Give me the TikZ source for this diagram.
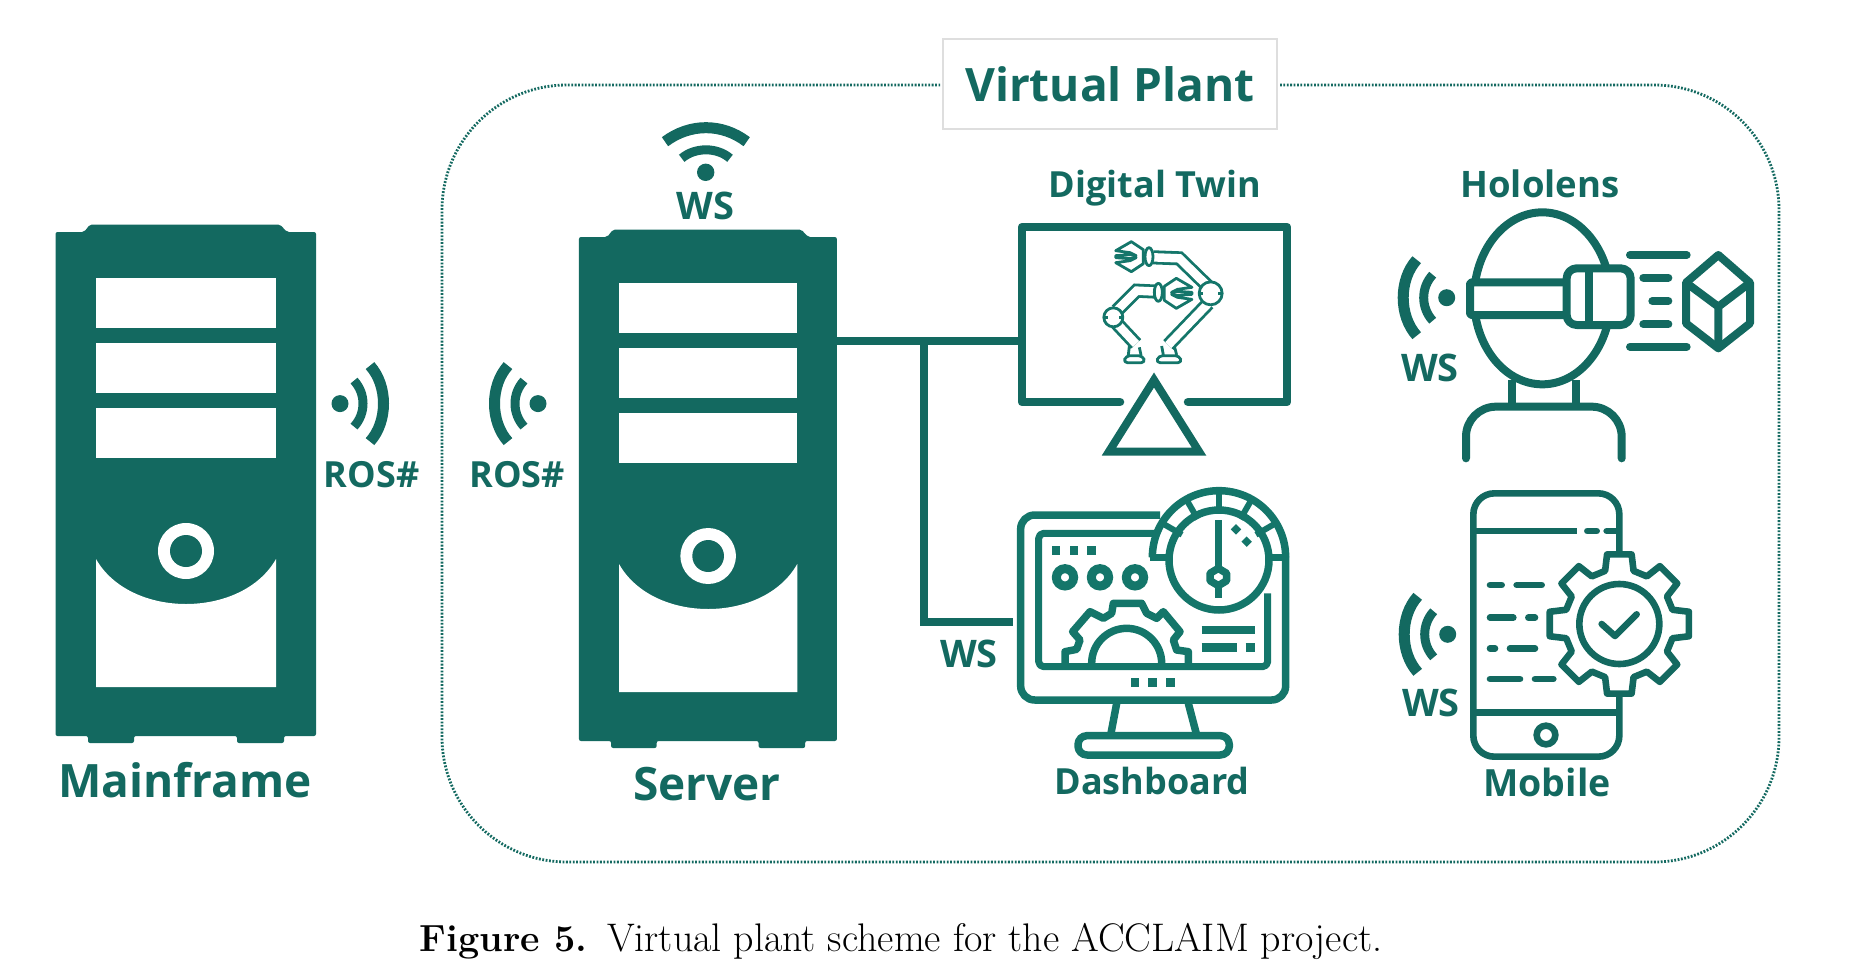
\documentclass[tikz,border=0pt]{standalone}
\usepackage{fontspec}
\usepackage{tikz}
\usetikzlibrary{arrows.meta,calc,positioning}
\newfontfamily\labelfont{Open Sans}
\definecolor{PlantTeal}{RGB}{19,105,96}
\definecolor{IconTeal}{RGB}{20,118,106}
\definecolor{BoxGray}{RGB}{222,222,222}
\tikzset{
  plantlabel/.style={text=PlantTeal,inner sep=0pt,anchor=base,font=\labelfont\bfseries\fontsize{#1}{#1}\selectfont},
  linkline/.style={PlantTeal,line width=8pt},
  iconline/.style={PlantTeal,line width=#1,line join=round},
  iconline/.default=8pt,
  capline/.style={iconline=#1,line cap=round},
  thinarm/.style={IconTeal,line width=2.8pt,line join=round},
  armtube/.style={IconTeal,line width=2.8pt,double=white,double distance=8.5pt},
  towerpic/.pic={
    \fill[PlantTeal,rounded corners=2pt] (55.5,232) -- (84,232) -- (90,224.5) -- (280,224.5) -- (287,232) -- (316,232)
      -- (316,736) -- (284,736) -- (284,743) -- (237,743) -- (237,736) -- (134,736) -- (134,743) -- (88,743)
      -- (88,736) -- (55.5,736) -- cycle;
    \foreach \top/\bot in {278/328,343/393,408/458}
      \fill[white] (96,\top) rectangle (276,\bot);
    \fill[white] (96,559) .. controls (130,619) and (242,619) .. (276,559) -- (276,687) -- (96,687) -- cycle;
    \fill[white] (186,551) circle[radius=28];
    \fill[PlantTeal] (186,551) circle[radius=16];
  },
  signalpic/.pic={
    \fill[PlantTeal] (0,0) circle[radius=8.5];
    \draw[PlantTeal,line width=9pt] (14,-23) .. controls (26,-10) and (26,10) .. (14,23);
    \draw[PlantTeal,line width=11pt] (30,-38) .. controls (48,-18) and (48,18) .. (30,38);
  },
  gripperpic/.pic={
    \draw[thinarm,fill=white] (0,-7) -- (-10,-15) -- (-23,-6) -- (-11,-4) -- (-6,-1) -- (-11,-2) -- (-23,-1)
      -- (-23,1) -- (-11,2) -- (-6,1) -- (-11,4) -- (-23,6) -- (-10,15) -- (0,7) -- cycle;
  },
  elbowpic/.pic={
    \draw[thinarm,fill=white] (0,0) circle[radius=#1];
    \draw[thinarm] (-#1,0) -- ++(4,0) (#1,0) -- ++(-4,0);
  },
}
\begin{document}
\begin{tikzpicture}[x=1pt,y=-1pt]
  \useasboundingbox (0,0) rectangle (1853,972);

  \draw[PlantTeal,line width=2.8pt,dash pattern=on 1.8pt off 1.6pt,rounded corners=125pt]
    (1280,85) -- (1779,85) -- (1779,862) -- (442,862) -- (442,85) -- (940,85);
  \node[plantlabel=46,draw=BoxGray,fill=white,anchor=center,minimum width=334pt,minimum height=90pt,line width=1.2pt] (plantbox) at (1110,84) {Virtual Plant};

  \pic at (0,0) {towerpic};
  \pic[xscale=0.99] at (524,5) {towerpic};
  \node[plantlabel=46] (mainframelabel) at (185,797) {Mainframe};
  \node[plantlabel=46] (serverlabel) at (707,800) {Server};

  \pic at (340,403.6) {signalpic};
  \pic[rotate=180] at (538,403.6) {signalpic};
  \node[plantlabel=36] (rosleft) at (371.5,487) {ROS\#};
  \node[plantlabel=36] (rosright) at (517,487) {ROS\#};

  % wifi over the server
  \fill[PlantTeal] (705.7,172.3) circle[radius=8.7];
  \draw[PlantTeal,line width=11pt] (665,141.7) .. controls (690,123) and (722,123) .. (746.7,141.7);
  \draw[PlantTeal,line width=9pt] (681.7,158.3) .. controls (695,147) and (717,147) .. (730,158.3);
  \node[plantlabel=38] (wsserver) at (705.5,219) {WS};

  \coordinate (serverport) at (836,341);
  \coordinate (branch) at (924,341);
  \coordinate (twinport) at (1020,341);
  \coordinate (dashport) at (1013,622);
  \draw[linkline] (serverport) -- (twinport);
  \draw[linkline] (branch) |- (dashport);
  \node[plantlabel=38] (wsdash) at (969,667) {WS};

  % digital twin
  \node[plantlabel=36] (twinlabel) at (1155,197) {Digital Twin};
  \draw[iconline=8.5pt,line cap=round] (1120,402) -- (1022,402) -- (1022,227) -- (1287,227) -- (1287,402) -- (1188,402);
  \draw[iconline=8pt,line join=miter] (1154,380) -- (1199,451.5) -- (1109,451.5) -- cycle;
  \begin{scope}[shift={(1100,240)},scale=1/3]
    \draw[armtube] (205,315) -- (325,190);
    \draw[armtube] (325,140) -- (238,55) -- (160,52);
    \draw[thinarm] (190,345) -- (185,318) (230,345) -- (224,322);
    \draw[thinarm,rounded corners=4pt] (168,368) -- (176,347) -- (238,347) -- (246,368) -- cycle;
    \pic at (332,160) {elbowpic=11.5};
    \draw[thinarm,fill=white] (147,50) ellipse[x radius=12,y radius=27];
    \pic[xscale=1.2] at (130,50) {gripperpic};

    \draw[armtube] (50,250) -- (108,312);
    \draw[armtube] (50,212) -- (110,152) -- (172,155);
    \draw[thinarm] (85,345) -- (88,318) (123,345) -- (118,322);
    \draw[thinarm,rounded corners=4pt] (70,368) -- (78,347) -- (128,347) -- (136,368) -- cycle;
    \pic at (40,232) {elbowpic=9.5};
    \draw[thinarm,fill=white] (175,157) ellipse[x radius=12,y radius=27];
    \pic[xscale=-1.2] at (193,160) {gripperpic};
  \end{scope}

  % dashboard
  \node[plantlabel=36] (dashlabel) at (1152,794) {Dashboard};
  \begin{scope}[shift={(1000,470)},scale=1/3]
    \draw[iconline=7.5pt,IconTeal,rounded corners=14pt] (480,135) -- (62,135) -- (62,690) -- (857,690) -- (857,260);
    \draw[iconline=7pt,IconTeal,rounded corners=5pt] (470,190) -- (116,190) -- (116,590) -- (803,590) -- (803,370);
    \draw[iconline=7.5pt,IconTeal] (457,262) arc[start angle=180,end angle=360,radius=200];
    \draw[iconline=7.5pt,IconTeal,fill=white] (657,270) circle[radius=150];
    \foreach \ang in {30,60,90,120,150}
      \draw[IconTeal,line width=6pt] ($(657,258)+(-\ang:128)$) -- ($(657,258)+(-\ang:200)$);
    \draw[IconTeal,line width=7.5pt] (450,262) -- (520,262) (795,262) -- (860,262);
    \draw[IconTeal,line width=7.5pt] (655,150) -- (655,385);
    \draw[IconTeal,fill=white,line width=7.5pt,line join=round] (655,295) -- (680,310) -- (680,332) -- (655,347) -- (630,332) -- (630,310) -- cycle;
    \fill[IconTeal,rotate around={45:(708,178)}] (697,167) rectangle (719,189);
    \fill[IconTeal,rotate around={45:(740,215)}] (729,204) rectangle (751,226);
    \foreach \px in {168,222,275}
      \fill[IconTeal] (\px-13,229) rectangle (\px+13,255);
    \foreach \px in {195,300,405}
      \draw[IconTeal,line width=9pt] (\px,322) circle[radius=26];
    \draw[iconline=7.5pt,IconTeal] (195,580) -- (195,545) -- (230,538) -- (240,510) -- (218,485) -- (270,425) -- (310,445)
      -- (335,430) -- (340,400) -- (425,400) -- (440,430) -- (470,445) -- (490,425) -- (540,485) -- (520,510) -- (530,540)
      -- (565,545) -- (565,580);
    \draw[iconline=7.5pt,IconTeal] (275,580) arc[start angle=180,end angle=360,radius=105];
    \draw[IconTeal,line width=8.5pt] (605,480) -- (765,480) (605,532) -- (710,532) (737,532) -- (765,532);
    \foreach \px in {405,458,512}
      \fill[IconTeal] (\px-13,624) rectangle (\px+13,650);
    \draw[iconline=7.5pt,IconTeal] (350,700) -- (332,795) (565,700) -- (590,795);
    \draw[iconline=7.5pt,IconTeal,rounded corners=9pt] (234,855) -- (234,797) -- (688,797) -- (688,855) -- cycle;
  \end{scope}

  % hololens
  \node[plantlabel=36.5] (hololabel) at (1540,197) {Hololens};
  \pic[rotate=180] at (1446.7,297.7) {signalpic};
  \node[plantlabel=38] (wsholo) at (1430,381) {WS};
  \begin{scope}[shift={(1380,160)},scale=1/3]
    \draw[iconline] (487,415) ellipse[x radius=205,y radius=258];
    \draw[iconline,fill=white,rounded corners=2pt] (270,367) rectangle (565,465);
    \draw[iconline,fill=white,rounded corners=10pt] (560,325) rectangle (752,495);
    \draw[iconline] (627,325) -- (627,495);
    \draw[iconline] (395,660) -- (395,740) (587,660) -- (587,740);
    \draw[capline=8pt] (258,895) -- (258,830) arc[start angle=180,end angle=270,radius=90] -- (635,740) arc[start angle=270,end angle=360,radius=90] -- (725,895);
    \draw[capline=8pt] (750,285) -- (920,285) (790,353) -- (865,353) (817,423) -- (865,423) (790,493) -- (865,493) (750,560) -- (920,560);
    \draw[iconline] (1015,285) -- (1110,368) -- (1110,490) -- (1015,565) -- (918,490) -- (918,368) -- cycle;
    \draw[iconline] (918,368) -- (1015,440) -- (1110,368) (1015,440) -- (1015,565);
  \end{scope}

  % mobile
  \node[plantlabel=37.5] (mobilelabel) at (1547,796) {Mobile};
  \pic[rotate=180] at (1447.7,634.3) {signalpic};
  \node[plantlabel=38] (wsmobile) at (1431,716) {WS};
  \begin{scope}[shift={(1380,480)},scale=1/3]
    \draw[iconline=6.6pt,rounded corners=21pt] (280,40) rectangle (718,830);
    \draw[iconline=6.6pt] (280,697) -- (718,697);
    \draw[iconline=6.6pt] (280,153) -- (590,153);
    \draw[iconline=6.6pt,line cap=round] (622,153) -- (650,153) (680,153) -- (710,153);
    \draw[iconline=6.6pt] (498,765) circle[radius=28];
    \draw[capline=6.6pt] (330,315) -- (365,315) (410,315) -- (485,315)
      (330,413) -- (400,413) (445,413) -- (465,413)
      (330,505) -- (345,505) (390,505) -- (465,505)
      (330,597) -- (420,597) (465,597) -- (520,597);
    \begin{scope}[shift={(718,432)}]
      \draw[iconline=6.6pt,fill=white] (-15:165) \foreach \ang in {0,45,...,315} { -- (\ang-15:165) -- (\ang-10:212) -- (\ang+10:212) -- (\ang+15:165) } -- cycle;
      \draw[iconline=6.6pt] (0,0) circle[radius=120];
      \draw[capline=6.6pt] (-53,0) -- (-13,36) -- (52,-29);
    \end{scope}
  \end{scope}

  \node[inner sep=0pt,anchor=base,font=\fontsize{39.9}{42}\selectfont] (caption) at (901,951) {{\fontsize{37.8}{42}\selectfont\bfseries Figure 5.}\hspace{20pt}Virtual plant scheme for the ACCLAIM project.};
\end{tikzpicture}
\end{document}
